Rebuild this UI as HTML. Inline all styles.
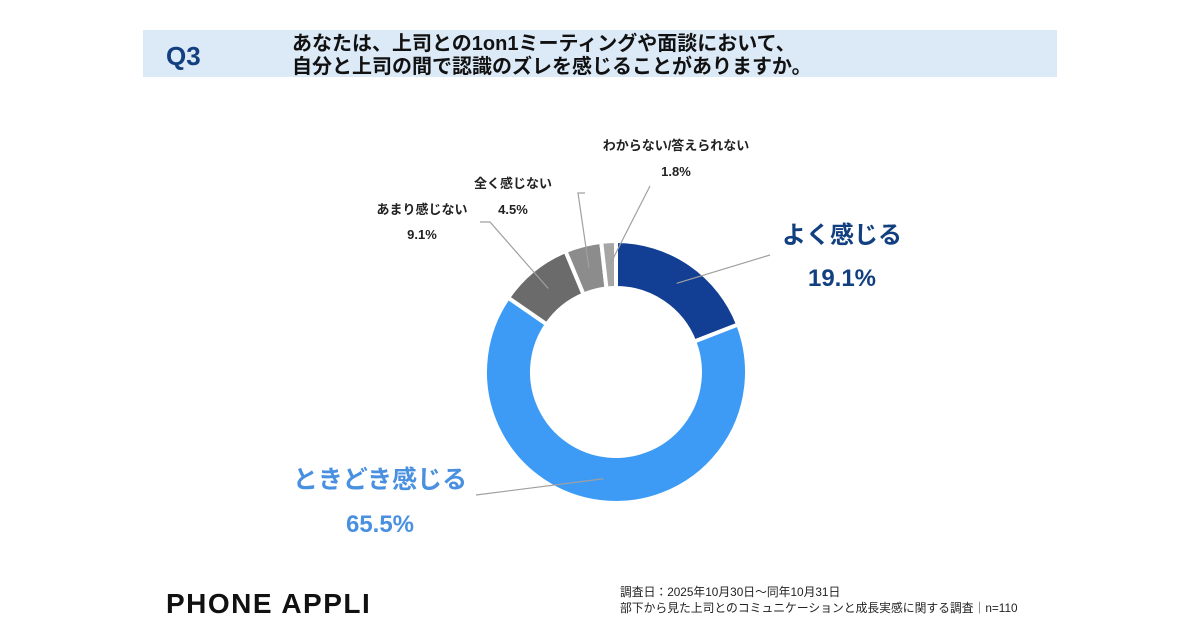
<!DOCTYPE html>
<html><head><meta charset="utf-8"><style>
body{margin:0;width:1200px;height:630px;background:#fff;overflow:hidden;font-family:"Liberation Sans","Noto Sans CJK JP",sans-serif}
svg text{font-family:"Liberation Sans","Noto Sans CJK JP",sans-serif}
</style></head><body>
<svg width="1200" height="630">
<rect x="143" y="30" width="914" height="47" fill="#dce9f6"/>
<text x="166" y="65" font-size="26" font-weight="bold" fill="#123f7f">Q3</text>
<text x="292" y="50" font-size="20" font-weight="bold" fill="#111">あなたは、上司との1on1ミーティングや面談において、</text>
<text x="292" y="73" font-size="20" font-weight="bold" fill="#111">自分と上司の間で認識のズレを感じることがありますか。</text>
<g id="donut"></g>
<g id="labels"></g>
<text x="166" y="613" font-size="28" font-weight="bold" fill="#111" letter-spacing="1.5">PHONE  APPLI</text>
<text x="620" y="596" font-size="11.8" fill="#222">調査日：2025年10月30日～同年10月31日</text>
<text x="620" y="612" font-size="11.8" fill="#222">部下から見た上司とのコミュニケーションと成長実感に関する調査｜n=110</text>
</svg>
<script>
const categories=["よく感じる","ときどき感じる","あまり感じない","全く感じない","わからない/答えられない"];
const values=[19.1,65.5,9.1,4.5,1.8];
const colors=["#123f93","#3d9bf5","#6b6b6b","#8c8c8c","#a6a6a6"];
const cx=616,cy=372,R=131,r=84;
const NS="http://www.w3.org/2000/svg";
const g=document.getElementById('donut');
const total=values.reduce((a,b)=>a+b,0);
function pt(a,rad){return [cx+rad*Math.sin(a),cy-rad*Math.cos(a)];}
let acc=0;const mids=[];
values.forEach((v,i)=>{
 const a0=acc/total*2*Math.PI;acc+=v;const a1=acc/total*2*Math.PI;
 mids.push((a0+a1)/2);
 const large=(a1-a0)>Math.PI?1:0;
 const p0=pt(a0,R),p1=pt(a1,R),q1=pt(a1,r),q0=pt(a0,r);
 const p=document.createElementNS(NS,'path');
 p.setAttribute('d',`M${p0}A${R},${R} 0 ${large} 1 ${p1}L${q1}A${r},${r} 0 ${large} 0 ${q0}Z`);
 p.setAttribute('fill',colors[i]);p.setAttribute('stroke','#fff');p.setAttribute('stroke-width','4');
 
 
 g.appendChild(p);
});
const L=document.getElementById('labels');
function txt(x,y,s,size,fill,name){const t=document.createElementNS(NS,'text');t.setAttribute('x',x);t.setAttribute('y',y);t.setAttribute('font-size',size);t.setAttribute('font-weight','bold');t.setAttribute('fill',fill);t.setAttribute('text-anchor','middle');t.textContent=s;


L.appendChild(t);}
function line(pts,name){const p=document.createElementNS(NS,'polyline');p.setAttribute('points',pts.join(' '));p.setAttribute('fill','none');p.setAttribute('stroke','#a0a0a0');p.setAttribute('stroke-width','1.2');


L.appendChild(p);}
const lab=[{x:842,y1:243,y2:286,s1:24,s2:24,c:"#123f7f",end:[770,255]},
{x:380,y1:488,y2:532,s1:25,s2:24,c:"#4a90e0",end:[476,495]},
{x:422,y1:214,y2:239,s1:13,s2:13,c:"#222",end:[490,222]},
{x:513,y1:188,y2:214,s1:13,s2:13,c:"#222",end:[578,193]},
{x:676,y1:150,y2:176,s1:13,s2:13,c:"#222",end:[650,186]}];
values.forEach((v,i)=>{
 const o=lab[i];
 txt(o.x,o.y1,categories[i],o.s1,o.c,'label-'+i);
 txt(o.x,o.y2,v.toFixed(1)+'%',o.s2,o.c,'value-'+i);
 const m=pt(mids[i],(R+r)/2);
 let pts=[m,o.end];
 if(i==2)pts=[m,o.end,[480,o.end[1]]];
 if(i==3)pts=[m,o.end,[585,o.end[1]]];
 line(pts,'leader-'+i);
});
</script>
</body></html>
